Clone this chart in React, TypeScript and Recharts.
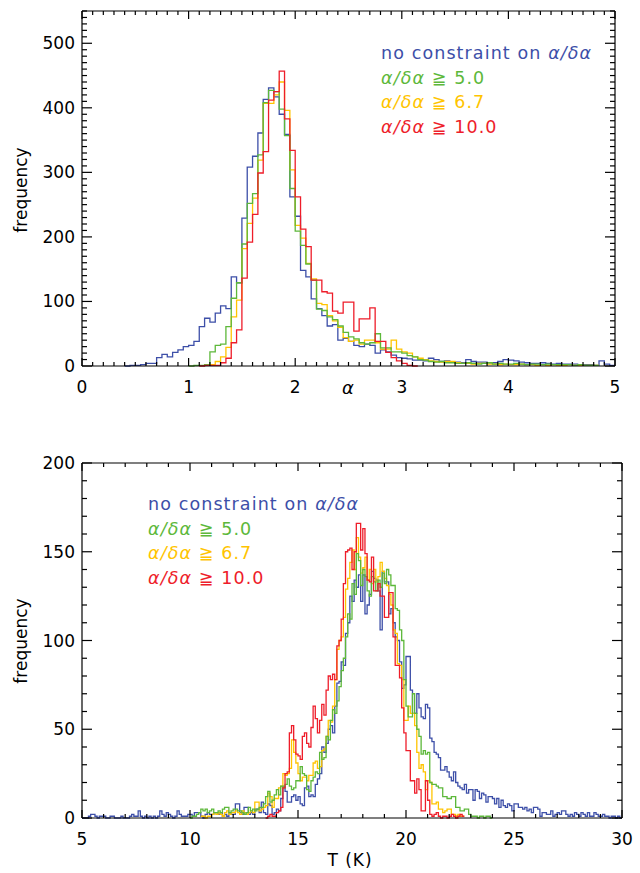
import React from 'react';
import { LineChart, Line, XAxis, YAxis } from 'recharts';

const FONT = '"DejaVu Sans", Verdana, sans-serif';
const BLUE = '#3d4fa8';
const GREEN = '#5db83a';
const YELLOW = '#ffc400';
const RED = '#ee1d2a';

// ---- top panel: alpha histograms, bin width 0.05 ----
const alphaBin = 0.05;
const alphaBlueStart = 0.4;
const alphaBlue = [
  0, 1, 1, 2, 4, 4, 13, 18, 14, 21,
  25, 30, 32, 38, 61, 74, 68, 82, 93, 89,
  138, 129, 229, 308, 325, 361, 413, 431, 417, 390,
  359, 262, 232, 148, 138, 104, 89, 78, 62, 64,
  40, 43, 38, 32, 30, 34, 32, 20, 25, 22,
  17, 13, 12,
  11, 9, 9, 8, 12, 10, 7, 8, 6, 6,
  5, 10, 7, 6, 6, 5, 5, 7, 10, 9,
  8, 6, 5, 4, 4, 5, 4, 3, 4, 3,
  3, 3, 2, 2, 2, 1, 8, 3, 1,
];
const alphaGreenStart = 1.0;
const alphaGreen = [
  0, 1, 1, 2, 22, 32, 34, 61, 105, 129,
  189, 252, 267, 327, 408, 427, 425, 398, 357, 275,
  209, 187, 158, 133, 88, 86, 76, 72, 62, 52,
  45, 42, 36, 34, 36, 50, 28, 28, 22, 22,
  20, 16, 14, 10, 9, 7, 6, 7, 5, 5,
  4, 4, 5, 4, 3, 4, 5, 3, 4, 3,
  3, 4, 3, 2, 3, 3, 2, 3, 2, 2,
  2, 2, 1, 2, 1, 1, 1,
];
const alphaYellowStart = 1.15;
const alphaYellow = [
  1, 2, 7, 14, 29, 76, 102,
  182, 221, 260, 319, 407, 407, 420, 440, 396, 304,
  218, 198, 159, 135, 97, 95, 78, 70, 60, 44,
  38, 40, 34, 40, 40, 36, 26, 26, 40, 26,
  22, 20, 14, 12, 10, 8, 7, 6, 7, 7,
  5, 4, 4, 3, 4, 4, 3, 3, 2, 3,
  2, 2, 3, 2, 2, 1, 2, 1, 2, 1,
  1, 2, 1, 1, 1, 1, 1,
];
const alphaRedStart = 1.1;
const alphaRed = [
  0, 1, 1, 1, 5, 12, 36, 56,
  136, 192, 235, 299, 332, 412, 425, 457, 383, 334,
  262, 212, 185, 133, 133, 115, 113, 85, 82, 99,
  99, 54, 73, 73, 90, 38, 38, 21, 13, 8,
  4, 1, 0,
];
const alphaTicks = [0, 1, 2, 3, 4, 5];
const freqTopTicks = [0, 100, 200, 300, 400, 500];

// ---- bottom panel: temperature histograms, bin width 0.1 K ----
const tBin = 0.1;
const tBlueStart = 5.0;
const tBlue = [
  0, 0, 0, 1, 2, 2, 1, 0, 1, 1,
  1, 0, 0, 1, 1, 0, 0, 0, 1, 0,
  0, 0, 1, 2, 1, 1, 4, 1, 0, 1,
  0, 1, 0, 1, 0, 1, 4, 2, 1, 3,
  2, 1, 0, 1, 4, 2, 1, 1, 1, 2,
  2, 1, 3, 3, 3, 1, 0, 2, 3, 2,
  2, 3, 3, 2, 3, 1, 2, 1, 3, 2,
  2, 8, 8, 3, 2, 6, 6, 2, 3, 2,
  5, 5, 3, 9, 3, 2, 8, 7, 2, 3,
  5, 4, 11, 18, 15, 9, 9, 12, 13, 10,
  12, 8, 7, 17, 18, 12, 13, 12, 19, 22,
  25, 40, 37, 42, 50, 52, 48, 63, 76, 77,
  88, 86, 104, 110, 125, 122, 134, 130, 137, 122,
  137, 115, 120, 126, 139, 135, 134, 128, 106, 139,
  133, 133, 115, 118, 110, 102, 100, 88, 73, 75,
  91, 91, 72, 59, 59, 70, 62, 57, 56, 64,
  62, 45, 43, 37, 36, 34, 27, 27, 29, 26,
  23, 21, 26, 20, 18, 17, 16, 19, 14, 16,
  16, 10, 16, 15, 11, 14, 13, 9, 12, 12,
  11, 8, 11, 6, 10, 7, 6, 8, 7, 4,
  8, 8, 6, 6, 5, 6, 4, 5, 3, 6,
  6, 5, 1, 3, 3, 2, 2, 4, 1, 2,
  3, 2, 4, 4, 2, 1, 2, 1, 3, 2,
  1, 3, 2, 1, 3, 1, 1, 3, 2, 1,
  1, 2, 1, 1, 0, 1, 1, 0, 1, 0,
];
const tGreenStart = 10.0;
const tGreen = [
  0, 1, 1, 2, 3, 5, 4, 5, 3, 4,
  5, 3, 3, 4, 3, 5, 6, 6, 3, 4,
  5, 5, 4, 4, 3, 2, 3, 6, 4, 5,
  4, 5, 6, 6, 8, 12, 15, 9, 10, 13,
  16, 13, 18, 17, 19, 22, 18, 16, 17, 21,
  21, 29, 25, 24, 16, 15, 21, 23, 26, 25,
  37, 33, 34, 46, 44, 55, 61, 59, 66, 74,
  83, 90, 102, 115, 112, 132, 126, 149, 145, 131,
  140, 136, 128, 125, 136, 133, 128, 134, 130, 138,
  132, 140, 137, 131, 131, 118, 117, 106, 100, 78,
  63, 57, 57, 70, 59, 50, 46, 36, 38, 36,
  37, 20, 19, 19, 18, 17, 17, 12, 12, 11,
  11, 12, 12, 6, 6, 4, 4, 5, 5, 2,
  1, 1, 1, 0, 1, 1, 0, 1, 1, 0,
];
const tYellowStart = 10.5;
const tYellow = [
  1, 1, 0, 1, 1,
  2, 3, 2, 3, 2, 1, 3, 4, 2, 3,
  3, 4, 3, 2, 4, 3, 2, 3, 4, 3,
  9, 9, 4, 5, 6, 7, 14, 12, 6, 11,
  11, 17, 18, 25, 24, 25, 28, 44, 37, 31,
  25, 21, 23, 23, 21, 24, 24, 31, 32, 28,
  29, 38, 39, 46, 55, 54, 63, 78, 95, 100,
  102, 113, 129, 135, 144, 151, 140, 158, 147, 138,
  141, 147, 134, 140, 132, 140, 133, 136, 144, 139,
  135, 131, 126, 120, 106, 104, 87, 86, 78, 55,
  55, 63, 59, 59, 52, 37, 28, 30, 26, 16,
  21, 20, 8, 8, 9, 5, 5, 3, 4, 5,
  5, 2, 2, 1, 2, 1, 1,
];
const tRedStart = 13.5;
const tRed = [
  0, 1, 2, 1, 1,
  3, 4, 6, 17, 25, 26, 48, 52, 44, 36,
  35, 33, 46, 48, 42, 40, 51, 63, 56, 48,
  55, 64, 58, 72, 80, 78, 81, 78, 97, 100,
  112, 132, 150, 151, 152, 140, 150, 166, 166, 151,
  163, 149, 134, 133, 147, 128, 128, 132, 125, 125,
  113, 113, 127, 127, 102, 86, 86, 79, 62, 48,
  38, 38, 21, 21, 14, 22, 16, 4, 4, 21,
  10, 2, 1, 2, 3, 1, 0, 1, 1, 0,
  1, 2, 1, 0, 1, 2, 1,
];
const tTicks = [5, 10, 15, 20, 25, 30];
const freqBottomTicks = [0, 50, 100, 150, 200];

function steps(a: number, b: number, d: number) {
  const out: number[] = [];
  for (let v = a; v <= b + 1e-9; v += d) out.push(+v.toFixed(3));
  return out;
}

type Series = [string, number, number[]];

// one row per bin edge; the extra edge after the last bin closes the step
function buildRows(x0: number, x1: number, w: number, series: Series[]) {
  const n = Math.round((x1 - x0) / w);
  const rows: any[] = [];
  for (let i = 0; i <= n; i++) {
    const x = +(x0 + i * w).toFixed(3);
    const row: any = { x };
    series.forEach(([key, start, vals]) => {
      const k = Math.round((x - start) / w);
      if (k >= 0 && k < vals.length) row[key] = vals[k];
      else if (k === vals.length) row[key] = vals[vals.length - 1];
      else row[key] = null;
    });
    rows.push(row);
  }
  return rows;
}

const alphaRows = buildRows(0, 5, alphaBin, [
  ['blue', alphaBlueStart, alphaBlue],
  ['green', alphaGreenStart, alphaGreen],
  ['yellow', alphaYellowStart, alphaYellow],
  ['red', alphaRedStart, alphaRed],
]);
const tRows = buildRows(5, 30, tBin, [
  ['blue', tBlueStart, tBlue],
  ['green', tGreenStart, tGreen],
  ['yellow', tYellowStart, tYellow],
  ['red', tRedStart, tRed],
]);

const black = { stroke: '#000', strokeWidth: 1.2 };
type Box = { left: number; right: number; top: number; bottom: number };

// IDL-style ticks: inward on all four sides, labels only on bottom/left
function xTick(box: Box, majors: number[]) {
  return (p: any) => {
    const v = p.payload.value;
    const major = majors.includes(v);
    const len = major ? 8 : 4;
    return (
      <g>
        <line x1={p.x} x2={p.x} y1={box.bottom} y2={box.bottom - len} {...black} />
        <line x1={p.x} x2={p.x} y1={box.top} y2={box.top + len} {...black} />
        {major && (
          <text x={p.x} y={box.bottom + 27} textAnchor="middle" fontSize={17} fill="#000">{v}</text>
        )}
      </g>
    );
  };
}

function yTick(box: Box, majors: number[]) {
  return (p: any) => {
    const v = p.payload.value;
    const major = majors.includes(v);
    const len = major ? 10 : 5;
    return (
      <g>
        <line x1={box.left} x2={box.left + len} y1={p.y} y2={p.y} {...black} />
        <line x1={box.right} x2={box.right - len} y1={p.y} y2={p.y} {...black} />
        {major && (
          <text x={box.left - 7} y={p.y + 6} textAnchor="end" fontSize={17} fill="#000">{v}</text>
        )}
      </g>
    );
  };
}

function frame(box: Box, xDomain: [number, number], xTicks: number[], xAll: number[],
  yDomain: [number, number], yTicks: number[], yAll: number[]) {
  return [
    <XAxis key="x" xAxisId="x" dataKey="x" type="number" domain={xDomain} ticks={xAll} interval={0}
      height={1} tickLine={false} axisLine={black} tick={xTick(box, xTicks)} />,
    <XAxis key="xt" xAxisId="xt" orientation="top" type="number" domain={xDomain} ticks={xTicks}
      height={1} tickLine={false} axisLine={black} tick={false} />,
    <YAxis key="y" yAxisId="y" type="number" domain={yDomain} ticks={yAll} interval={0}
      width={1} tickLine={false} axisLine={black} tick={yTick(box, yTicks)} />,
    <YAxis key="yr" yAxisId="yr" orientation="right" type="number" domain={yDomain} ticks={yTicks}
      width={1} tickLine={false} axisLine={black} tick={false} />,
  ];
}

function lines() {
  const defs: [string, string][] = [['blue', BLUE], ['yellow', YELLOW], ['green', GREEN], ['red', RED]];
  return defs.map(([key, color]) => (
    <Line key={key} xAxisId="x" yAxisId="y" dataKey={key} type="stepAfter" stroke={color}
      strokeWidth={1.3} dot={false} activeDot={false} connectNulls={false} isAnimationActive={false} />
  ));
}

function Legend({ x, y }: { x: number; y: number }) {
  const ratio = <tspan fontStyle="italic">α/δα</tspan>;
  return (
    <g fontSize={17.5} letterSpacing={1.1}>
      <text x={x} y={y} fill={BLUE}>no constraint on {ratio}</text>
      <text x={x} y={y + 24.5} fill={GREEN}>{ratio} ≧ 5.0</text>
      <text x={x} y={y + 49} fill={YELLOW}>{ratio} ≧ 6.7</text>
      <text x={x} y={y + 73.5} fill={RED}>{ratio} ≧ 10.0</text>
    </g>
  );
}

// plot boxes in each chart's own pixel frame
const topBox: Box = { left: 82, right: 615, top: 11, bottom: 366 };
const bottomBox: Box = { left: 82, right: 622, top: 33, bottom: 388 };

export default function App() {
  return (
    <div style={{ position: 'absolute', left: 0, top: 0, width: 640, height: 873, background: '#fff', fontFamily: FONT }}>
      <div style={{ position: 'absolute', left: 0, top: 0 }}>
        <LineChart width={640} height={420} data={alphaRows}
          margin={{ top: topBox.top - 1, right: 640 - topBox.right - 1, bottom: 420 - topBox.bottom - 1, left: topBox.left - 1 }}>
          {frame(topBox, [0, 5], alphaTicks, steps(0, 5, 0.1), [0, 550], freqTopTicks, steps(0, 550, 10))}
          {lines()}
        </LineChart>
      </div>
      <div style={{ position: 'absolute', left: 0, top: 430 }}>
        <LineChart width={640} height={443} data={tRows}
          margin={{ top: bottomBox.top - 1, right: 640 - bottomBox.right - 1, bottom: 443 - bottomBox.bottom - 1, left: bottomBox.left - 1 }}>
          {frame(bottomBox, [5, 30], tTicks, steps(5, 30, 1), [0, 200], freqBottomTicks, steps(0, 200, 10))}
          {lines()}
        </LineChart>
      </div>
      <svg width={640} height={873} style={{ position: 'absolute', left: 0, top: 0, pointerEvents: 'none' }}
        fontFamily={FONT}>
        <Legend x={381} y={59} />
        <Legend x={148} y={510} />
        <text transform="translate(26.5,190) rotate(-90)" textAnchor="middle" fontSize={17}>frequency</text>
        <text transform="translate(26.5,641) rotate(-90)" textAnchor="middle" fontSize={17}>frequency</text>
        <text x={348} y={394} textAnchor="middle" fontSize={18} fontStyle="italic">α</text>
        <text x={350} y={866} textAnchor="middle" fontSize={17} letterSpacing={1}>T (K)</text>
      </svg>
    </div>
  );
}
